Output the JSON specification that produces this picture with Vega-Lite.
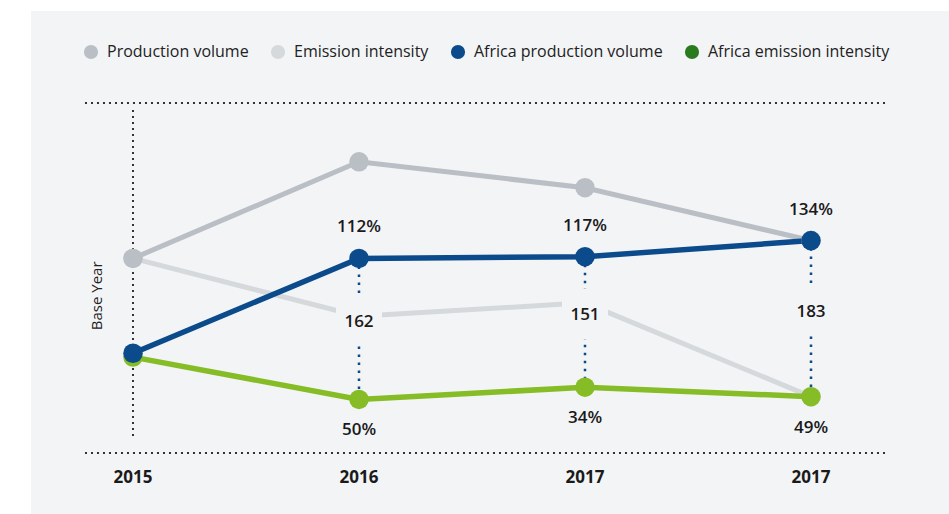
{
  "$schema": "https://vega.github.io/schema/vega-lite/v6.json",
  "width": 918,
  "height": 503,
  "autosize": "none",
  "padding": {"left": 31, "top": 11, "right": 0, "bottom": 0},
  "background": "white",
  "config": {"view": {"fill": "#f3f4f6", "stroke": null}, "font": "Open Sans"},
  "datasets": {
    "series": [
      {"idx": 0, "year": "2015", "series": "Emission intensity", "v": 55.6},
      {"idx": 1, "year": "2016", "series": "Emission intensity", "v": 39.1},
      {"idx": 2, "year": "2017", "series": "Emission intensity", "v": 42.9},
      {"idx": 3, "year": "2017", "series": "Emission intensity", "v": 16.1},
      {"idx": 0, "year": "2015", "series": "Production volume", "v": 55.6},
      {"idx": 1, "year": "2016", "series": "Production volume", "v": 83.2},
      {"idx": 2, "year": "2017", "series": "Production volume", "v": 75.8},
      {"idx": 3, "year": "2017", "series": "Production volume", "v": 60.7},
      {"idx": 0, "year": "2015", "series": "Africa emission intensity", "v": 27.4},
      {"idx": 1, "year": "2016", "series": "Africa emission intensity", "v": 15.3},
      {"idx": 2, "year": "2017", "series": "Africa emission intensity", "v": 18.8},
      {"idx": 3, "year": "2017", "series": "Africa emission intensity", "v": 16.1},
      {"idx": 0, "year": "2015", "series": "Africa production volume", "v": 28.5},
      {"idx": 1, "year": "2016", "series": "Africa production volume", "v": 55.6},
      {"idx": 2, "year": "2017", "series": "Africa production volume", "v": 56.1},
      {"idx": 3, "year": "2017", "series": "Africa production volume", "v": 60.7}
    ],
    "table": [
      {"idx": 0, "year": "2015", "apv": 28.5, "aei": 27.4, "top": "", "bottom": "", "mid": ""},
      {"idx": 1, "year": "2016", "apv": 55.6, "aei": 15.3, "top": "112%", "bottom": "50%", "mid": "162"},
      {"idx": 2, "year": "2017", "apv": 56.1, "aei": 18.8, "top": "117%", "bottom": "34%", "mid": "151"},
      {"idx": 3, "year": "2017", "apv": 60.7, "aei": 16.1, "top": "134%", "bottom": "49%", "mid": "183"}
    ]
  },
  "layer": [
    {
      "data": {"name": "table"},
      "mark": {"type": "rule", "stroke": "#333333", "strokeWidth": 2, "strokeDash": [2, 4]},
      "encoding": {
        "x": {"datum": -0.2124, "type": "quantitative", "scale": {"domain": [0, 3], "range": [102, 780], "nice": false, "zero": false}, "axis": null},
        "x2": {"datum": 3.327},
        "y": {"datum": 100, "type": "quantitative", "scale": {"domain": [0, 100], "range": [442, 92], "nice": false, "zero": false}, "axis": null}
      }
    },
    {
      "data": {"name": "table"},
      "mark": {"type": "rule", "stroke": "#333333", "strokeWidth": 2, "strokeDash": [2, 4]},
      "encoding": {
        "x": {"datum": -0.2124, "type": "quantitative"},
        "x2": {"datum": 3.327},
        "y": {"datum": 0, "type": "quantitative"}
      }
    },
    {
      "data": {"name": "table"},
      "mark": {"type": "rule", "stroke": "#333333", "strokeWidth": 2, "strokeDash": [2, 4]},
      "encoding": {
        "x": {"datum": 0, "type": "quantitative"},
        "y": {"datum": 98, "type": "quantitative"},
        "y2": {"datum": 4.6}
      }
    },
    {
      "data": {"values": [{"t": "Base Year"}]},
      "mark": {"type": "text", "angle": 270, "align": "center", "baseline": "middle", "fontSize": 15, "color": "#222222", "xOffset": -36},
      "encoding": {
        "x": {"datum": 0, "type": "quantitative"},
        "y": {"datum": 44.9, "type": "quantitative"},
        "text": {"field": "t"}
      }
    },
    {
      "data": {"name": "series"},
      "transform": [{"filter": "datum.series === 'Emission intensity'"}],
      "mark": {"type": "line", "stroke": "#d5d9dc", "strokeWidth": 5},
      "encoding": {
        "x": {"field": "idx", "type": "quantitative"},
        "y": {"field": "v", "type": "quantitative"}
      }
    },
    {
      "data": {"name": "series"},
      "transform": [{"filter": "datum.series === 'Emission intensity'"}],
      "mark": {"type": "point", "shape": "circle", "filled": true, "opacity": 1, "size": 380, "strokeWidth": 0, "fill": "#d5d9dc"},
      "encoding": {
        "x": {"field": "idx", "type": "quantitative"},
        "y": {"field": "v", "type": "quantitative"}
      }
    },
    {
      "data": {"name": "series"},
      "transform": [{"filter": "datum.series === 'Production volume'"}],
      "mark": {"type": "line", "stroke": "#b9bfc4", "strokeWidth": 5},
      "encoding": {
        "x": {"field": "idx", "type": "quantitative"},
        "y": {"field": "v", "type": "quantitative"}
      }
    },
    {
      "data": {"name": "table"},
      "transform": [{"filter": "datum.idx > 0"}],
      "mark": {"type": "rule", "stroke": "#0b4a8b", "strokeWidth": 2.5, "strokeDash": [2.5, 5.5]},
      "encoding": {
        "x": {"field": "idx", "type": "quantitative"},
        "y": {"field": "apv", "type": "quantitative"},
        "y2": {"field": "aei"}
      }
    },
    {
      "data": {"name": "table"},
      "transform": [{"filter": "datum.idx > 0"}, {"calculate": "(datum.apv + datum.aei) / 2", "as": "midv"}],
      "mark": {"type": "point", "shape": "M-0.92,-1H0.92V1H-0.92Z", "filled": true, "fill": "#f3f4f6", "opacity": 1, "strokeWidth": 0, "size": 2500, "yOffset": -8},
      "encoding": {
        "x": {"field": "idx", "type": "quantitative"},
        "y": {"field": "midv", "type": "quantitative"}
      }
    },
    {
      "data": {"name": "series"},
      "transform": [{"filter": "datum.series === 'Africa emission intensity'"}],
      "mark": {"type": "line", "stroke": "#86bc25", "strokeWidth": 5.5},
      "encoding": {
        "x": {"field": "idx", "type": "quantitative"},
        "y": {"field": "v", "type": "quantitative"}
      }
    },
    {
      "data": {"name": "series"},
      "transform": [{"filter": "datum.series === 'Africa production volume'"}],
      "mark": {"type": "line", "stroke": "#0b4a8b", "strokeWidth": 5.5},
      "encoding": {
        "x": {"field": "idx", "type": "quantitative"},
        "y": {"field": "v", "type": "quantitative"}
      }
    },
    {
      "data": {"name": "series"},
      "transform": [{"filter": "datum.series !== 'Emission intensity'"}],
      "mark": {"type": "point", "shape": "circle", "filled": true, "opacity": 1, "size": 380, "strokeWidth": 0},
      "encoding": {
        "x": {"field": "idx", "type": "quantitative"},
        "y": {"field": "v", "type": "quantitative"},
        "fill": {
          "field": "series", "type": "nominal", "legend": null,
          "scale": {
            "domain": ["Africa emission intensity", "Africa production volume", "Production volume"],
            "range": ["#86bc25", "#0b4a8b", "#b9bfc4"]
          }
        }
      }
    },
    {
      "data": {"name": "series"},
      "mark": {"type": "point", "shape": "circle", "filled": true, "opacity": 0, "size": 10},
      "encoding": {
        "x": {"field": "idx", "type": "quantitative"},
        "y": {"field": "v", "type": "quantitative"},
        "color": {
          "field": "series", "type": "nominal",
          "scale": {
            "domain": ["Production volume", "Emission intensity", "Africa production volume", "Africa emission intensity"],
            "range": ["#b9bfc4", "#d5d9dc", "#0b4a8b", "#2a7b1f"]
          },
          "legend": {
            "orient": "none", "legendX": 52, "legendY": 33, "direction": "horizontal", "title": null,
            "symbolType": "circle", "symbolSize": 200, "symbolOpacity": 1, "symbolStrokeWidth": 0,
            "labelFont": "Open Sans", "labelFontSize": 16, "labelColor": "#222222", "labelOffset": 8,
            "columnPadding": 21, "labelLimit": 400
          }
        }
      }
    },
    {
      "data": {"name": "table"},
      "mark": {"type": "text", "fontSize": 17, "fontWeight": 600, "color": "#1a1a1a", "baseline": "middle", "align": "center", "dy": -31},
      "encoding": {
        "x": {"field": "idx", "type": "quantitative"},
        "y": {"field": "apv", "type": "quantitative"},
        "text": {"field": "top"}
      }
    },
    {
      "data": {"name": "table"},
      "mark": {"type": "text", "fontSize": 17, "fontWeight": 600, "color": "#1a1a1a", "baseline": "middle", "align": "center", "dy": 31},
      "encoding": {
        "x": {"field": "idx", "type": "quantitative"},
        "y": {"field": "aei", "type": "quantitative"},
        "text": {"field": "bottom"}
      }
    },
    {
      "data": {"name": "table"},
      "transform": [{"calculate": "(datum.apv + datum.aei) / 2", "as": "midv"}],
      "mark": {"type": "text", "fontSize": 17, "fontWeight": 600, "color": "#1a1a1a", "baseline": "middle", "align": "center", "dy": -7},
      "encoding": {
        "x": {"field": "idx", "type": "quantitative"},
        "y": {"field": "midv", "type": "quantitative"},
        "text": {"field": "mid"}
      }
    },
    {
      "data": {"name": "table"},
      "mark": {"type": "text", "fontSize": 17, "fontWeight": "bold", "color": "#1a1a1a", "baseline": "middle", "align": "center"},
      "encoding": {
        "x": {"field": "idx", "type": "quantitative"},
        "y": {"datum": -7.1, "type": "quantitative"},
        "text": {"field": "year"}
      }
    }
  ]
}
